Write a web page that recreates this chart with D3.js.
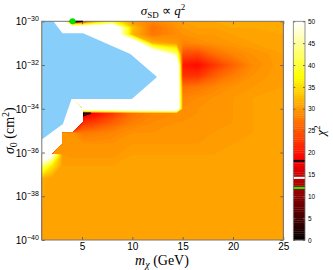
<!DOCTYPE html>
<html>
<head>
<meta charset="utf-8">
<script src="https://cdnjs.cloudflare.com/ajax/libs/d3/7.8.5/d3.min.js"></script>
<style>
body { margin: 0; background: #fff; }
svg { display: block; }
.tick text { font-family: "Liberation Sans", Arial, sans-serif; fill: #000; }
.tick line { stroke: #666; }
.latex { font-family: "Liberation Serif", "Times New Roman", serif; fill: #000; }
</style>
</head>
<body>
<div id="chart"></div>
<script>
// chi^2 over (mass, log10 sigma)
// null = no value there (left blank / white), 60 = above the colour range (white)
var massNodes = [1, 2, 3.05, 4, 5.15, 6.5, 8, 10, 12, 14.4, 15, 16.5, 18, 20, 22, 25];
var logSigmaNodes = [-30, -30.3, -30.6, -31, -31.5, -32, -32.5, -33, -33.5, -34, -34.2, -34.6, -35.1, -35.6, -36.1, -36.6, -37.2, -40];
var N = null, H = 60;
var chi2Rows = [
  [H, H, H, 11.9, 18.5, 30, 38, 30, 28.5, 30, 30.5, 31, 31, 31, 31, 31],
  [H, H, H, H, H, H, H, 33, 27, 29.5, 30, 30.5, 30.5, 31, 31, 31],
  [H, H, H, H, H, H, H, 32, 27.5, 29, 29.5, 30, 30, 30.5, 30.5, 31],
  [H, H, H, H, H, H, H, H, 32, 30, 28.5, 29, 29.5, 30, 30.5, 30.5],
  [H, H, H, H, H, H, H, H, H, 44, 24.5, 24, 26.5, 28.5, 29.5, 30.5],
  [H, H, H, H, H, H, H, H, H, H, 20.5, 19.5, 22.5, 26, 29, 30.5],
  [H, H, H, H, H, H, H, H, H, H, 22.5, 22.5, 25.5, 28, 29.5, 30.5],
  [H, H, H, H, H, H, H, H, H, H, 27, 27.5, 28.5, 29.5, 30, 30.5],
  [H, H, H, H, H, H, H, H, H, H, 28.5, 29, 29.5, 30, 30.5, 30.5],
  [H, H, N, N, H, H, H, H, H, H, 29, 29.5, 29.5, 30, 30.5, 30.5],
  [N, N, N, N, 16.5, 19.5, 22.5, 27, 28.5, 29, 29, 29.5, 29.5, 30, 30.5, 30.5],
  [N, N, N, N, 22, 23.5, 25.5, 28, 29, 29.5, 29.5, 29.5, 29.5, 30, 30.5, 30.5],
  [N, N, 29.5, 29.5, 27.5, 28, 28.5, 29.5, 29.5, 29.5, 29.5, 29.5, 30, 30, 30.5, 30.5],
  [N, N, 29.5, 29.5, 29.5, 29.5, 29.5, 30, 30, 30, 30, 30, 30, 30.5, 30.5, 30.5],
  [58, 52, 30, 29.8, 29.8, 29.8, 29.8, 30.5, 30.5, 30.5, 30.5, 30.5, 30.5, 30.5, 30.5, 30.5],
  [44, 36, 30.5, 30.5, 30.5, 30.5, 30.5, 30.5, 30.5, 30.5, 30.5, 30.5, 30.5, 30.5, 30.5, 30.5],
  [31.5, 30.5, 30.5, 30.5, 30.5, 30.5, 30.5, 30.5, 30.5, 30.5, 30.5, 30.5, 30.5, 30.5, 30.5, 30.5],
  [30.5, 30.5, 30.5, 30.5, 30.5, 30.5, 30.5, 30.5, 30.5, 30.5, 30.5, 30.5, 30.5, 30.5, 30.5, 30.5]
];

// excluded region (mass, log10 sigma)
var excludedRegion = [[1, -30], [2.15, -30], [3.05, -30.55], [5.1, -30.55], [9.8, -31.5], [12.45, -32.55],
  [9.95, -33.55], [3.95, -33.55], [3.1, -34.7], [1, -35.4]];

// best fit point and confidence levels
var bestFit = {m: 4.06, logSigma: -30, chi2: 11.9};
var confidenceLines = [{level: 14.2, color: "#fff"}, {level: 18.1, color: "#000"}];

var xTicks = [5, 10, 15, 20, 25];
var yTicks = [1e-30, 1e-32, 1e-34, 1e-36, 1e-38, 1e-40];
var colorTicks = [0, 5, 10, 15, 20, 25, 30, 35, 40, 45, 50];

var svgWidth = 333, svgHeight = 270;
var plot = {left: 41.8, right: 283.3, top: 21.3, bottom: 240};
var bar = {left: 293.3, right: 305};

var svg = d3.select("#chart").append("svg")
  .attr("width", svgWidth)
  .attr("height", svgHeight);

var x = d3.scaleLinear().domain([1, 25]).range([plot.left, plot.right]);
var y = d3.scaleLog().domain([1e-40, 1e-30]).range([plot.bottom, plot.top]);
var c = d3.scaleLinear().domain([0, 50]).range([plot.bottom, plot.top]);

// matlab "hot" colormap over 0..50
function hot(v) {
  var t = Math.max(0, Math.min(1, v / 50));
  var r = Math.min(1, t / 0.375);
  var g = Math.max(0, Math.min(1, (t - 0.375) / 0.375));
  var b = Math.max(0, Math.min(1, (t - 0.75) / 0.25));
  return d3.rgb(r * 255, g * 255, b * 255).toString();
}

// grid -> screen, nodes are not evenly spaced so map index space piecewise
var nx = massNodes.length, ny = logSigmaNodes.length;
function atIndex(nodes, f) {
  var i = Math.max(0, Math.min(nodes.length - 2, Math.floor(f)));
  return nodes[i] + (nodes[i + 1] - nodes[i]) * (f - i);
}
var gridPath = d3.geoPath(d3.geoTransform({
  point: function(cx, cy) {
    var fi = Math.max(0, Math.min(nx - 1, cx - 0.5));
    var fj = Math.max(0, Math.min(ny - 1, cy - 0.5));
    this.stream.point(x(atIndex(massNodes, fi)), y(Math.pow(10, atIndex(logSigmaNodes, fj))));
  }
}));

// missing cells get a huge negative value so they sit below every level
var flat = [], flatNeg = [];
chi2Rows.forEach(function(row) {
  row.forEach(function(v) {
    flat.push(v === null ? -1e6 : v);
    flatNeg.push(v === null ? -1e6 : -v);
  });
});

svg.append("clipPath").attr("id", "plotClip")
  .append("rect")
  .attr("x", plot.left).attr("y", plot.top - 1)
  .attr("width", plot.right - plot.left).attr("height", plot.bottom - plot.top + 1);

var plotGroup = svg.append("g").attr("clip-path", "url(#plotClip)");

plotGroup.append("rect")
  .attr("x", plot.left).attr("y", plot.top)
  .attr("width", plot.right - plot.left).attr("height", plot.bottom - plot.top)
  .attr("fill", "#fff");

// filled contours stacked from the lowest level up (lowest just under the best fit)
var fillLevels = d3.range(11.5, 50, 0.5).concat([50]);
var bands = d3.contours().size([nx, ny]).thresholds(fillLevels)(flat);
plotGroup.selectAll("path.band")
  .data(bands)
  .enter()
  .append("path")
  .attr("class", "band")
  .attr("d", gridPath)
  .attr("fill", d => d.value >= 50 ? "#fff" : hot(d.value + 0.25));

// excluded region
plotGroup.append("path")
  .datum(excludedRegion)
  .attr("d", d3.line().x(d => x(d[0])).y(d => y(Math.pow(10, d[1]))).curve(d3.curveLinearClosed))
  .attr("fill", "#87cefa");

// axes, ticks pointing in
var xAxis = svg.append("g")
  .attr("transform", `translate(0, ${plot.bottom})`)
  .call(d3.axisBottom(x).tickValues(xTicks).tickSizeInner(-3).tickSizeOuter(0).tickPadding(3));
svg.append("g")
  .attr("transform", `translate(0, ${plot.top})`)
  .call(d3.axisTop(x).tickValues(xTicks).tickSizeInner(-3).tickSizeOuter(0).tickFormat(""));
var yAxis = svg.append("g")
  .attr("transform", `translate(${plot.left}, 0)`)
  .call(d3.axisLeft(y).tickValues(yTicks).tickSizeInner(-3).tickSizeOuter(0).tickPadding(3));
svg.append("g")
  .attr("transform", `translate(${plot.right}, 0)`)
  .call(d3.axisRight(y).tickValues(yTicks).tickSizeInner(-3).tickSizeOuter(0).tickFormat(""));
svg.selectAll(".domain").remove();
xAxis.selectAll(".tick text").attr("font-size", "10px");

yAxis.selectAll(".tick text").each(function(d) {
  var t = d3.select(this).text("").attr("font-size", "10px").attr("dy", "0.35em");
  t.append("tspan").text("10");
  t.append("tspan").attr("dy", -4).attr("font-size", "7px")
    .text("\u2212" + Math.abs(Math.round(Math.log10(d))));
});

// box
svg.append("rect")
  .attr("x", plot.left).attr("y", plot.top)
  .attr("width", plot.right - plot.left).attr("height", plot.bottom - plot.top)
  .attr("fill", "none").attr("stroke", "#777").attr("stroke-width", 1);

// confidence contour lines
var lineGroup = svg.append("g");
confidenceLines.forEach(function(cl) {
  var rings = d3.contours().size([nx, ny]).thresholds([-cl.level])(flatNeg);
  lineGroup.append("path")
    .datum(rings[0])
    .attr("d", gridPath)
    .attr("fill", "none")
    .attr("stroke", cl.color)
    .attr("stroke-width", 1.2);
});

// best fit
svg.append("circle")
  .attr("cx", x(bestFit.m))
  .attr("cy", y(Math.pow(10, bestFit.logSigma)))
  .attr("r", 3)
  .attr("fill", "#00e000");

// colorbar
var barSteps = d3.range(0, 50, 0.5);
svg.selectAll("rect.cbar")
  .data(barSteps)
  .enter()
  .append("rect")
  .attr("class", "cbar")
  .attr("x", bar.left)
  .attr("width", bar.right - bar.left)
  .attr("y", d => c(d + 0.5))
  .attr("height", d => c(d) - c(d + 0.5) + 0.3)
  .attr("fill", d => hot(d + 0.25));

// confidence levels marked on the colorbar
var barMarks = [{v: bestFit.chi2, color: "#00ff00"}, {v: 14.2, color: "#fff"}, {v: 18.1, color: "#000"}];
svg.selectAll("rect.cmark")
  .data(barMarks)
  .enter()
  .append("rect")
  .attr("class", "cmark")
  .attr("x", bar.left)
  .attr("width", bar.right - bar.left)
  .attr("y", d => c(d.v) - 1)
  .attr("height", 2)
  .attr("fill", d => d.color);

var cAxis = svg.append("g")
  .attr("transform", `translate(${bar.right}, 0)`)
  .call(d3.axisRight(c).tickValues(colorTicks).tickSizeInner(-2).tickSizeOuter(0).tickPadding(3));
cAxis.selectAll(".tick text").attr("font-size", "6.5px");
svg.append("g")
  .attr("transform", `translate(${bar.left}, 0)`)
  .call(d3.axisLeft(c).tickValues(colorTicks).tickSizeInner(-2).tickSizeOuter(0).tickFormat(""));
svg.selectAll(".domain").remove();
svg.append("rect")
  .attr("x", bar.left).attr("y", plot.top)
  .attr("width", bar.right - bar.left).attr("height", plot.bottom - plot.top)
  .attr("fill", "none").attr("stroke", "#777").attr("stroke-width", 0.8);

// title and labels
var title = svg.append("text").attr("class", "latex")
  .attr("x", 163).attr("y", 15).attr("text-anchor", "middle").attr("font-size", "13px");
title.append("tspan").attr("font-style", "italic").text("\u03c3");
title.append("tspan").attr("font-size", "9px").attr("dy", 3).text("SD");
title.append("tspan").attr("dy", -3).text(" \u221d ");
title.append("tspan").attr("font-style", "italic").text("q");
title.append("tspan").attr("font-size", "9px").attr("dy", -5).text("2");

var xLabel = svg.append("text").attr("class", "latex")
  .attr("x", 162).attr("y", 265).attr("text-anchor", "middle").attr("font-size", "14px");
xLabel.append("tspan").attr("font-style", "italic").text("m");
xLabel.append("tspan").attr("font-size", "10px").attr("dy", 3).attr("font-style", "italic").text("\u03c7");
xLabel.append("tspan").attr("dy", -3).text(" (GeV)");

var yLabel = svg.append("text").attr("class", "latex")
  .attr("transform", `translate(14, ${(plot.top + plot.bottom) / 2}) rotate(-90)`)
  .attr("text-anchor", "middle").attr("font-size", "14px");
yLabel.append("tspan").attr("font-style", "italic").text("\u03c3");
yLabel.append("tspan").attr("font-size", "10px").attr("dy", 3).text("0");
yLabel.append("tspan").attr("dy", -3).text(" (cm");
yLabel.append("tspan").attr("font-size", "10px").attr("dy", -5).text("2");
yLabel.append("tspan").attr("dy", 5).text(")");

var cLabel = svg.append("text").attr("class", "latex")
  .attr("transform", `translate(325, ${(plot.top + plot.bottom) / 2}) rotate(-90)`)
  .attr("text-anchor", "middle").attr("font-size", "13px");
cLabel.append("tspan").attr("font-style", "italic").text("\u03c7");
cLabel.append("tspan").attr("font-size", "9px").attr("dy", -5).text("2");
</script>
</body>
</html>
